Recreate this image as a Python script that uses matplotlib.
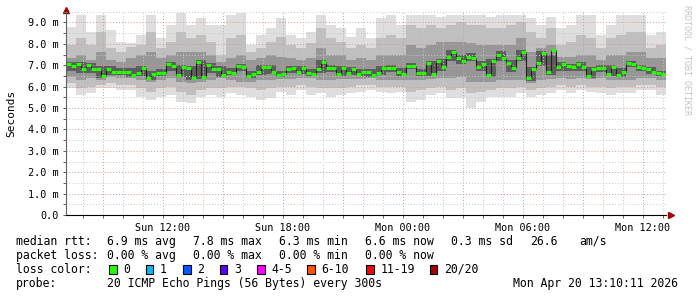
import numpy as np
import matplotlib
matplotlib.use("Agg")
import matplotlib.pyplot as plt
from matplotlib.patches import Rectangle
from matplotlib.ticker import FixedLocator, FuncFormatter, MultipleLocator

# time axis in hours since Sun 00:00 (graph spans Sun 07:10 .. Mon 13:10)
t_start = 7 + 10 / 60
t_end = 37 + 10 / 60

# median rtt in ms, one value per 15 minutes
med_step = 0.25
median_ms = [
    7.05, 6.95, 7.05, 6.80, 7.00, 6.80, 6.80, 6.50, 6.80, 6.70,
    6.70, 6.70, 6.70, 6.55, 6.65, 6.85, 6.40, 6.60, 6.65, 6.65,
    7.05, 6.95, 6.55, 6.90, 6.85, 6.40, 7.15, 6.45, 7.00, 6.80,
    6.80, 6.55, 6.70, 6.65, 6.95, 6.90, 6.50, 6.60, 6.70, 6.90,
    6.90, 6.70, 6.55, 6.60, 6.80, 6.85, 6.70, 6.85, 6.65, 6.60,
    6.80, 7.15, 6.85, 6.85, 6.60, 6.85, 6.65, 6.80, 6.60, 6.70,
    6.70, 6.55, 6.65, 6.85, 6.85, 6.85, 6.70, 6.60, 6.95, 6.95,
    6.65, 6.65, 7.10, 6.60, 7.20, 6.90, 7.40, 7.60, 7.35, 7.20,
    7.40, 7.35, 6.90, 7.05, 6.55, 7.20, 7.50, 7.35, 7.10, 6.85,
    7.35, 7.60, 6.40, 6.80, 7.10, 7.55, 6.70, 7.70, 6.90, 7.05,
    6.95, 6.90, 7.05, 6.90, 6.50, 6.80, 6.85, 6.85, 6.60, 6.90,
    6.55, 6.70, 7.10, 7.05, 6.90, 6.85, 6.80, 6.70, 6.65, 6.60,
]

# smoke envelopes in ms, one value per 30 minutes (outer -> inner)
smoke_step = 0.5
smoke_max = [
    8.80, 9.35, 8.57, 9.35, 8.64, 8.10, 8.02, 8.41, 9.35, 8.26,
    8.88, 9.42, 8.88, 9.19, 8.88, 8.88, 9.35, 9.42, 7.94, 8.41,
    8.72, 9.19, 8.41, 8.26, 8.57, 9.35, 8.88, 8.72, 8.33, 8.72,
    8.26, 9.19, 9.35, 8.88, 9.35, 9.35, 9.35, 9.27, 9.35, 9.35,
    9.35, 9.35, 9.27, 9.35, 9.35, 9.35, 9.19, 8.88, 9.27, 8.72,
    8.88, 9.35, 9.35, 8.41, 8.88, 9.35, 9.35, 9.35, 8.41, 8.57,
]
smoke_hi = [
    7.94, 8.26, 7.94, 8.57, 7.79, 7.63, 7.87, 7.94, 8.57, 7.79,
    8.10, 8.57, 8.26, 8.41, 8.10, 7.48, 8.26, 8.41, 7.63, 7.79,
    8.10, 8.33, 7.94, 7.79, 8.02, 8.72, 8.26, 8.10, 7.79, 7.94,
    7.79, 8.26, 8.41, 8.26, 8.88, 8.72, 8.88, 8.72, 8.88, 9.03,
    8.88, 8.88, 8.72, 8.72, 8.88, 9.03, 8.57, 8.26, 8.72, 7.94,
    8.10, 8.41, 8.26, 7.79, 8.26, 8.41, 8.57, 8.57, 7.79, 7.94,
]
smoke_q_hi = [
    7.32, 7.48, 7.24, 7.63, 7.24, 7.17, 7.32, 7.48, 7.63, 7.32,
    7.48, 7.63, 7.63, 7.63, 7.48, 7.17, 7.32, 7.48, 7.24, 7.32,
    7.48, 7.40, 7.32, 7.24, 7.32, 7.79, 7.48, 7.48, 7.24, 7.32,
    7.24, 7.48, 7.48, 7.48, 7.94, 7.79, 7.94, 8.10, 8.10, 8.10,
    8.02, 7.94, 7.94, 7.94, 7.94, 8.26, 7.63, 7.79, 7.94, 7.40,
    7.40, 7.48, 7.48, 7.24, 7.48, 7.48, 7.63, 7.63, 7.32, 7.32,
]
smoke_core_hi = [
    7.15, 7.15, 7.10, 6.95, 6.95, 6.85, 6.85, 6.95, 6.75, 6.80,
    7.15, 7.00, 6.95, 7.25, 7.10, 6.95, 6.85, 7.05, 6.75, 7.00,
    7.00, 6.75, 6.95, 6.95, 6.80, 7.25, 7.00, 6.95, 6.90, 6.80,
    6.80, 6.95, 7.00, 6.85, 7.10, 6.80, 7.20, 7.30, 7.70, 7.50,
    7.55, 7.20, 7.30, 7.65, 7.25, 7.70, 6.90, 7.65, 7.50, 7.15,
    7.05, 7.15, 6.90, 7.00, 7.00, 6.85, 7.20, 7.00, 6.90, 6.75,
]
smoke_core_lo = [
    6.75, 6.65, 6.65, 6.40, 6.55, 6.55, 6.45, 6.50, 6.30, 6.50,
    6.75, 6.45, 6.30, 6.35, 6.65, 6.45, 6.55, 6.75, 6.40, 6.55,
    6.60, 6.45, 6.65, 6.60, 6.50, 6.65, 6.70, 6.50, 6.55, 6.50,
    6.45, 6.55, 6.70, 6.50, 6.80, 6.50, 6.50, 6.75, 7.20, 7.05,
    7.20, 6.75, 6.45, 7.20, 6.70, 7.20, 6.25, 6.95, 6.55, 6.75,
    6.75, 6.75, 6.40, 6.70, 6.50, 6.45, 6.90, 6.75, 6.60, 6.50,
]
smoke_q_lo = [
    6.46, 6.31, 6.39, 6.31, 6.46, 6.41, 6.39, 6.31, 6.23, 6.31,
    6.39, 6.23, 6.15, 6.23, 6.31, 6.39, 6.31, 6.23, 6.23, 6.31,
    6.31, 6.35, 6.35, 6.39, 6.39, 6.31, 6.31, 6.35, 6.35, 6.35,
    6.39, 6.31, 6.31, 6.31, 6.31, 6.31, 6.35, 6.39, 6.39, 6.46,
    6.23, 6.23, 6.23, 6.31, 6.31, 6.31, 6.15, 6.31, 6.35, 6.39,
    6.35, 6.39, 6.35, 6.39, 6.31, 6.31, 6.31, 6.39, 6.39, 6.31,
]
smoke_lo = [
    6.15, 5.92, 6.00, 6.07, 6.15, 6.07, 6.07, 5.92, 5.76, 5.92,
    6.00, 5.76, 5.61, 5.84, 5.92, 5.92, 6.00, 6.00, 5.92, 5.84,
    5.92, 6.00, 6.00, 6.07, 6.00, 5.92, 5.92, 5.92, 6.00, 6.07,
    6.07, 6.00, 6.00, 6.00, 5.76, 5.84, 5.92, 6.00, 5.84, 5.92,
    5.68, 5.76, 5.84, 5.92, 5.92, 6.00, 5.84, 5.92, 6.00, 6.07,
    6.00, 6.07, 6.00, 6.00, 5.92, 6.00, 6.00, 6.07, 6.07, 6.00,
]
smoke_min = [
    5.92, 5.61, 5.68, 5.92, 5.92, 5.84, 5.84, 5.53, 5.37, 5.53,
    5.61, 5.30, 5.22, 5.53, 5.61, 5.53, 5.68, 5.61, 5.53, 5.37,
    5.45, 5.76, 5.61, 5.84, 5.61, 5.68, 5.53, 5.61, 5.68, 5.76,
    5.84, 5.76, 5.68, 5.76, 5.30, 5.37, 5.61, 5.68, 5.45, 5.45,
    5.00, 5.30, 5.53, 5.53, 5.53, 5.68, 5.53, 5.61, 5.68, 5.84,
    5.68, 5.84, 5.76, 5.68, 5.61, 5.68, 5.68, 5.84, 5.84, 5.61,
]

x_tick_hours = [12, 18, 24, 30, 36]
x_tick_labels = ["Sun 12:00", "Sun 18:00", "Mon 00:00", "Mon 06:00", "Mon 12:00"]

rtt_stats = [("6.9", "ms avg"), ("7.8", "ms max"), ("6.3", "ms min"),
             ("6.6", "ms now"), ("0.3", "ms sd")]
rtt_am = "26.6"
loss_stats = [("0.00", "% avg"), ("0.00", "% max"), ("0.00", "% min"), ("0.00", "% now")]
loss_labels = ["0", "1", "2", "3", "4-5", "6-10", "11-19", "20/20"]
loss_colors = ["#26ff00", "#00b8ff", "#0059ff", "#5e00ff", "#ff00ff",
               "#ff5500", "#ff0000", "#a10000"]
probe_text = "20 ICMP Echo Pings (56 Bytes) every 300s"
stamp_text = "Mon Apr 20 13:10:11 2026"

W, H = 697, 297
MONO = "DejaVu Sans Mono"

fig = plt.figure(figsize=(W / 100, H / 100), dpi=100)
fig.patch.set_facecolor("white")


def fx(x):
    return x / W


def fy(y):
    return 1 - y / H


ax = fig.add_axes([fx(66), fy(215), 600 / W, (215 - 11.7) / H])
ax.set_xlim(t_start, t_end)
ax.set_ylim(0, 9.5)

# smoke, from outer (light) to inner (dark)
smoke_edges = t_start + smoke_step * np.arange(len(smoke_max) + 1)
ax.stairs(smoke_max, smoke_edges, baseline=smoke_min, fill=True, color="#dedede", lw=0)
ax.stairs(smoke_hi, smoke_edges, baseline=smoke_lo, fill=True, color="#bfbfbf", lw=0)
ax.stairs(smoke_q_hi, smoke_edges, baseline=smoke_q_lo, fill=True, color="#979797", lw=0)
ax.stairs(smoke_core_hi, smoke_edges, baseline=smoke_core_lo, fill=True, color="#5e5e5e", lw=0)

# median line: black connectors, green segments
med_edges = t_start + med_step * np.arange(len(median_ms) + 1)
ax.stairs(median_ms, med_edges, baseline=None, color="#202020", lw=0.8, zorder=4)
ax.hlines(median_ms, med_edges[:-1], med_edges[1:], colors=loss_colors[0], lw=2.2, zorder=5)

# grid: red every 3 h / 1 ms, grey every 1 h / 0.5 ms
major_hours = list(range(9, 37, 3))
ax.xaxis.set_major_locator(FixedLocator(major_hours))
ax.xaxis.set_major_formatter(FuncFormatter(
    lambda v, p: x_tick_labels[x_tick_hours.index(int(round(v)))] if int(round(v)) in x_tick_hours else ""))
ax.xaxis.set_minor_locator(MultipleLocator(1))
ax.yaxis.set_major_locator(MultipleLocator(1))
ax.yaxis.set_major_formatter(FuncFormatter(lambda v, p: "0.0" if v == 0 else f"{v:.1f} m"))
ax.yaxis.set_minor_locator(MultipleLocator(0.5))
ax.set_axisbelow(False)
ax.grid(which="minor", color="#c8c8c8", lw=0.7, ls=(0, (1, 2)), zorder=3)
ax.grid(which="major", color="#e89090", lw=0.7, ls=(0, (1, 2)), zorder=3)

for s in ["top", "right"]:
    ax.spines[s].set_visible(False)
ax.spines["left"].set_color("#606060")
ax.spines["bottom"].set_color("black")
ax.spines["left"].set_zorder(6)
ax.spines["bottom"].set_zorder(6)
ax.tick_params(which="both", length=2, width=0.7, color="#606060", pad=3,
               labelsize=7.3, labelfontfamily=MONO)
ax.tick_params(axis="x", which="major", pad=4)

# axis arrows
ax.plot([0], [1.01], marker="^", ms=4, color="#a00000", transform=ax.transAxes, clip_on=False)
ax.plot([1.008], [0], marker=">", ms=4, color="#a00000", transform=ax.transAxes, clip_on=False)

fig.text(fx(11), fy(113.5), "Seconds", rotation=90, ha="center", va="center",
         family=MONO, fontsize=8)
fig.text(fx(687.5), fy(5), "RRDTOOL / TOBI OETIKER", rotation=270, ha="center", va="top",
         family=MONO, fontsize=6, color="#c4c4c4")

# legend block
FS = 8.3
y1, y2, y3, y4 = 241.3, 255.3, 269.3, 283.7
fig.text(fx(16), fy(y1), "median rtt:", family=MONO, fontsize=FS, va="center")
for xpos, (val, unit) in zip([106.7, 193.3, 279.3, 365.3, 451.3], rtt_stats):
    fig.text(fx(xpos), fy(y1), f"{val} {unit}", family=MONO, fontsize=FS, va="center")
fig.text(fx(530.3), fy(y1), rtt_am, family=MONO, fontsize=FS, va="center")
fig.text(fx(579.3), fy(y1), "am/s", family=MONO, fontsize=FS, va="center")

fig.text(fx(16), fy(y2), "packet loss:", family=MONO, fontsize=FS, va="center")
for xpos, (val, unit) in zip([106.7, 193.3, 279.3, 365.3], loss_stats):
    fig.text(fx(xpos), fy(y2), f"{val} {unit}", family=MONO, fontsize=FS, va="center")

fig.text(fx(16), fy(y3), "loss color:", family=MONO, fontsize=FS, va="center")
box_x = [109, 145.7, 183.3, 220, 257.3, 307.3, 366.3, 429.7]
for bx, lab, col in zip(box_x, loss_labels, loss_colors):
    fig.patches.append(Rectangle((fx(bx), fy(y3 + 4.3)), 7.5 / W, 8.6 / H,
                                 transform=fig.transFigure, facecolor=col,
                                 edgecolor="black", lw=0.8))
    fig.text(fx(bx + 14.3), fy(y3), lab, family=MONO, fontsize=FS, va="center")

fig.text(fx(16), fy(y4), "probe:", family=MONO, fontsize=FS, va="center")
fig.text(fx(106.7), fy(y4), probe_text, family=MONO, fontsize=FS, va="center")
fig.text(fx(512.7), fy(y4), stamp_text, family=MONO, fontsize=FS, va="center")

fig.savefig("out.png", dpi=100, facecolor="white")
